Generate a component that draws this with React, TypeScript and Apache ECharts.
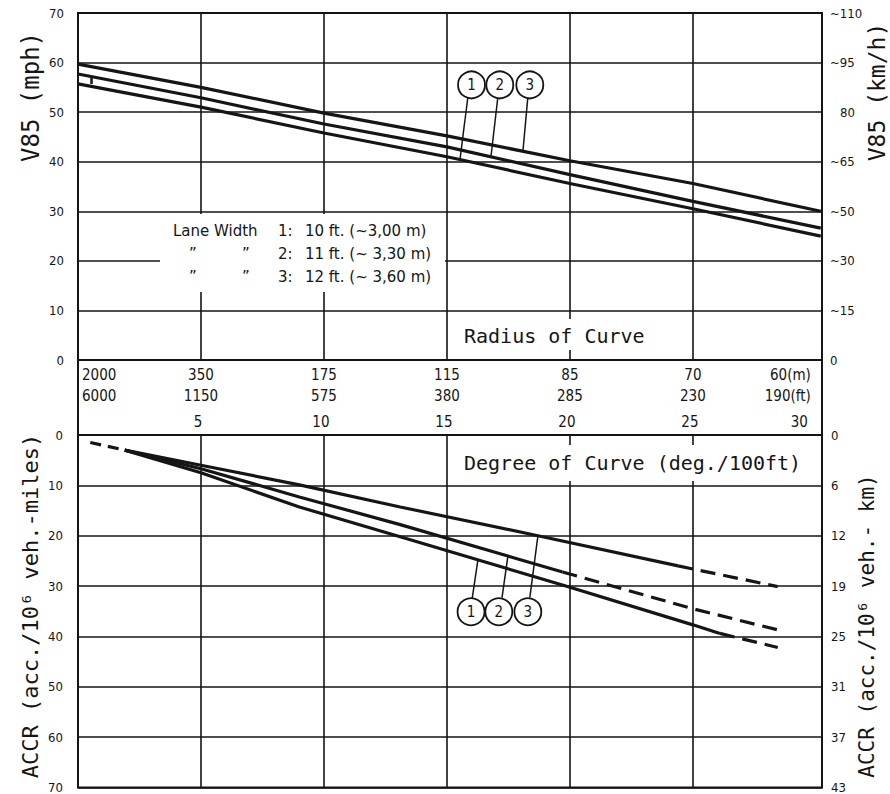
import { useEffect, useRef } from 'react';
import * as echarts from 'echarts';

// ---------- data ----------
const DEG_TICKS = [0, 5, 10, 15, 20, 25, 30];
const DEG_GRID = [5, 10, 15, 20, 25];
const DEG_MAX = 30.25;
const RADIUS_M = ['2000', '350', '175', '115', '85', '70', '60(m)'];
const RADIUS_FT = ['6000', '1150', '575', '380', '285', '230', '190(ft)'];
const KMH_LABELS = ['0', '~15', '~30', '~50', '~65', '80', '~95', '~110'];
const ACCR_KM_LABELS = ['0', '6', '12', '19', '25', '31', '37', '43'];

// V85 (mph) vs degree of curve, lane widths 10/11/12 ft
const V85_DEG = [0, 5, 10, 15, 20, 25, 30.2];
const V85_L1 = [55.7, 51.0, 45.8, 41.0, 35.6, 30.5, 25.0];
const V85_L2 = [57.7, 52.9, 47.6, 43.0, 37.4, 32.0, 26.6];
const V85_L3 = [59.7, 55.0, 49.8, 45.2, 40.2, 35.6, 30.0];

// ACCR (acc./10^6 veh.-miles) vs degree of curve
const START_DEG = [0.5, 1.9];
const START_ACCR = [1.5, 3.0];
const L1_DEG = [1.9, 5, 9.0, 13.1, 19.9, 25.0, 26.1];
const L1_ACCR = [3.0, 7.5, 14.3, 20.2, 30.1, 37.7, 39.4];
const L1_DASH_DEG = [26.1, 28.45];
const L1_DASH_ACCR = [39.4, 42.2];
const L2_DEG = [1.9, 5, 9.0, 13.1, 19.7];
const L2_ACCR = [3.0, 6.7, 12.3, 17.8, 27.2];
const L2_DASH_DEG = [19.7, 25.0, 28.45];
const L2_DASH_ACCR = [27.2, 34.5, 38.7];
const L3_DEG = [1.9, 5, 9.0, 13.1, 18.7, 24.4];
const L3_ACCR = [3.0, 6.0, 9.9, 14.3, 20.0, 26.0];
const L3_DASH_DEG = [24.4, 28.45];
const L3_DASH_ACCR = [26.0, 30.1];

// circled line numbers and their leader lines
const LINE_IDS = ['1', '2', '3'];
const TOP_CIRCLE_DEG = [16.0, 17.15, 18.37];
const TOP_CIRCLE_V = 55.5;
const TOP_LEADER_FROM = [[15.85, 53.0], [17.07, 53.0], [18.29, 53.0]];
const TOP_LEADER_TO = [[15.53, 40.4], [16.79, 41.0], [18.09, 42.1]];
const TOP_TICK = [[0.53, 56.9], [0.53, 55.7]];
const BOT_CIRCLE_DEG = [15.98, 17.11, 18.29];
const BOT_CIRCLE_ACCR = 35.1;
const BOT_LEADER_FROM = [[16.02, 32.7], [17.24, 32.3], [18.37, 32.3]];
const BOT_LEADER_TO = [[16.26, 24.8], [17.48, 24.0], [18.7, 20.0]];

// ---------- styling ----------
const INK = '#151515';
const FONT = "'DejaVu Sans Condensed', 'DejaVu Sans', sans-serif";
const FONT_W = "'DejaVu Sans', sans-serif";
const FONT_M = "'DejaVu Sans Mono', monospace";
const GRID_LINE = { color: INK, width: 1.6 };

const zip = (xs: number[], ys: number[]) => xs.map((x, i) => [x, ys[i]]);

function lineSeries(xi: number, yi: number, data: number[][], dashed?: number[], extra: any = {}) {
  return {
    type: 'line',
    xAxisIndex: xi,
    yAxisIndex: yi,
    data,
    symbol: 'none',
    showSymbol: false,
    silent: true,
    z: 3,
    lineStyle: { color: INK, width: 3.2, type: dashed || 'solid', cap: 'butt' },
    ...extra,
  };
}

function vGrid() {
  return {
    markLine: {
      silent: true,
      symbol: ['none', 'none'],
      label: { show: false },
      animation: false,
      lineStyle: { color: INK, width: 1.6, type: 'solid' },
      data: DEG_GRID.map((v) => ({ xAxis: v })),
    },
  };
}

function text(x: number, y: number, t: string, size: number, align = 'left', rotation = 0, family = FONT) {
  return {
    type: 'text',
    x,
    y,
    rotation,
    z: 11,
    silent: true,
    style: {
      text: t,
      fill: INK,
      fontSize: size,
      fontFamily: family,
      align,
      verticalAlign: 'middle',
      textAlign: align,
      textVerticalAlign: 'middle',
    },
  };
}

function whiteRect(x: number, y: number, w: number, h: number) {
  return { type: 'rect', z: 10, silent: true, shape: { x, y, width: w, height: h }, style: { fill: '#fff' } };
}

export default function App() {
  const ref = useRef<HTMLDivElement>(null);

  useEffect(() => {
    const chart = echarts.init(ref.current!, null, { renderer: 'svg' });

    const gridBase = { left: 78, right: 68, show: true, borderColor: INK, borderWidth: 2, backgroundColor: 'transparent' };
    const tickLabel = { color: INK, fontSize: 13, fontFamily: FONT };

    const option: any = {
      animation: false,
      backgroundColor: '#fff',
      grid: [
        { ...gridBase, top: 13, height: 347 },
        { ...gridBase, top: 435, height: 353 },
        { ...gridBase, top: 360, height: 75 },
      ],
      xAxis: [
        {
          gridIndex: 0,
          type: 'value',
          min: 0,
          max: DEG_MAX,
          interval: 5,
          position: 'bottom',
          axisLine: { show: false },
          axisTick: { show: false },
          splitLine: { show: false },
          axisLabel: {
            customValues: DEG_TICKS,
            color: INK,
            fontSize: 15,
            fontFamily: FONT,
            margin: 4,
            lineHeight: 21,
            alignMinLabel: 'left',
            alignMaxLabel: 'right',
            formatter: (v: number) => {
              const i = DEG_TICKS.indexOf(v);
              if (i < 0) return '';
              if (i === 0) return `{l|${RADIUS_M[i]}}\n{l|${RADIUS_FT[i]}}`;
              if (i === DEG_TICKS.length - 1) return `{r|${RADIUS_M[i]}}\n{r|${RADIUS_FT[i]}}`;
              return `${RADIUS_M[i]}\n${RADIUS_FT[i]}`;
            },
            rich: {
              l: { padding: [0, 0, 0, 4], fontSize: 15, fontFamily: FONT, color: INK, lineHeight: 21 },
              r: { padding: [0, 5, 0, 0], fontSize: 15, fontFamily: FONT, color: INK, lineHeight: 21 },
            },
          },
        },
        {
          gridIndex: 1,
          type: 'value',
          min: 0,
          max: DEG_MAX,
          interval: 5,
          position: 'top',
          axisLine: { show: false },
          axisTick: { show: false },
          splitLine: { show: false },
          axisLabel: {
            customValues: DEG_TICKS,
            color: INK,
            fontSize: 15,
            fontFamily: FONT,
            margin: 6,
            alignMaxLabel: 'right',
            formatter: (v: number) => {
              if (v === 0) return '';
              if (v === 30) return `{r|${v}}`;
              if (DEG_TICKS.indexOf(v) < 0) return '';
              return `{c|${v}}`;
            },
            rich: {
              r: { padding: [0, 8, 0, 0], fontSize: 15, fontFamily: FONT, color: INK },
              c: { padding: [0, 6, 0, 0], fontSize: 15, fontFamily: FONT, color: INK },
            },
          },
        },
        { gridIndex: 2, type: 'value', min: 0, max: DEG_MAX, show: false },
      ],
      yAxis: [
        {
          gridIndex: 0,
          type: 'value',
          min: 0,
          max: 70,
          interval: 10,
          position: 'left',
          axisLine: { show: false },
          axisTick: { show: false },
          splitLine: { show: true, lineStyle: GRID_LINE },
          axisLabel: { ...tickLabel, margin: 14 },
        },
        {
          gridIndex: 0,
          type: 'value',
          min: 0,
          max: 70,
          interval: 10,
          position: 'right',
          axisLine: { show: false },
          axisTick: { show: false },
          splitLine: { show: false },
          axisLabel: {
            ...tickLabel,
            margin: 8,
            formatter: (v: number) => {
              const s = KMH_LABELS[Math.round(v / 10)] ?? '';
              return s.startsWith('~') || s === '0' ? s : `{p|${s}}`;
            },
            rich: { p: { padding: [0, 0, 0, 10], fontSize: 13, fontFamily: FONT, color: INK } },
          },
        },
        {
          gridIndex: 1,
          type: 'value',
          min: 0,
          max: 70,
          interval: 10,
          inverse: true,
          position: 'left',
          axisLine: { show: false },
          axisTick: { show: false },
          splitLine: { show: true, lineStyle: GRID_LINE },
          axisLabel: { ...tickLabel, margin: 15 },
        },
        {
          gridIndex: 1,
          type: 'value',
          min: 0,
          max: 70,
          interval: 10,
          inverse: true,
          position: 'right',
          axisLine: { show: false },
          axisTick: { show: false },
          splitLine: { show: false },
          axisLabel: { ...tickLabel, margin: 9, formatter: (v: number) => ACCR_KM_LABELS[Math.round(v / 10)] ?? '' },
        },
        { gridIndex: 2, type: 'value', min: 0, max: 1, show: false },
      ],
      graphic: [
        // lane width legend
        whiteRect(160, 214, 285, 78),
        text(173, 231, 'Lane Width', 15, 'left', 0, FONT_W),
        text(278, 231, '1:', 15, 'left', 0, FONT_W),
        text(305, 231, '10 ft. (~3,00 m)', 15, 'left', 0, FONT_W),
        text(189, 254, '\u201D', 15, 'left', 0, FONT_W),
        text(242, 254, '\u201D', 15, 'left', 0, FONT_W),
        text(278, 254, '2:', 15, 'left', 0, FONT_W),
        text(305, 254, '11 ft. (~ 3,30 m)', 15, 'left', 0, FONT_W),
        text(189, 277, '\u201D', 15, 'left', 0, FONT_W),
        text(242, 277, '\u201D', 15, 'left', 0, FONT_W),
        text(278, 277, '3:', 15, 'left', 0, FONT_W),
        text(305, 277, '12 ft. (~ 3,60 m)', 15, 'left', 0, FONT_W),
        // axis captions inside plot
        whiteRect(453, 319, 208, 31),
        text(464, 336, 'Radius of Curve', 20, 'left', 0, FONT_M),
        whiteRect(455, 445, 358, 36),
        text(464, 463, 'Degree of Curve (deg./100ft)', 20, 'left', 0, FONT_M),
        // rotated axis titles
        text(31, 97, 'V85 (mph)', 24, 'center', Math.PI / 2, FONT_M),
        text(877, 92, 'V85 (km/h)', 23, 'center', Math.PI / 2, FONT_M),
        text(30, 606, 'ACCR (acc./10\u2076 veh.-miles)', 22, 'center', Math.PI / 2, FONT_M),
        text(867, 626, 'ACCR (acc./10\u2076 veh.- km)', 21, 'center', Math.PI / 2, FONT_M),
      ],
      series: [
        // top panel
        lineSeries(0, 0, zip(V85_DEG, V85_L1), undefined, vGrid()),
        lineSeries(0, 0, zip(V85_DEG, V85_L2)),
        lineSeries(0, 0, zip(V85_DEG, V85_L3)),
        // bottom panel
        lineSeries(1, 2, zip(START_DEG, START_ACCR), [11, 7], vGrid()),
        lineSeries(1, 2, zip(L1_DEG, L1_ACCR)),
        lineSeries(1, 2, zip(L1_DASH_DEG, L1_DASH_ACCR), [15, 8]),
        lineSeries(1, 2, zip(L2_DEG, L2_ACCR)),
        lineSeries(1, 2, zip(L2_DASH_DEG, L2_DASH_ACCR), [15, 8]),
        lineSeries(1, 2, zip(L3_DEG, L3_ACCR)),
        lineSeries(1, 2, zip(L3_DASH_DEG, L3_DASH_ACCR), [15, 8]),
        // leader lines
        {
          type: 'lines',
          coordinateSystem: 'cartesian2d',
          xAxisIndex: 0,
          yAxisIndex: 0,
          silent: true,
          z: 4,
          lineStyle: { color: INK, width: 1.5, opacity: 1 },
          data: [
            ...TOP_LEADER_FROM.map((f, i) => ({ coords: [f, TOP_LEADER_TO[i]] })),
            { coords: TOP_TICK, lineStyle: { width: 2.5 } },
          ],
        },
        {
          type: 'lines',
          coordinateSystem: 'cartesian2d',
          xAxisIndex: 1,
          yAxisIndex: 2,
          silent: true,
          z: 4,
          lineStyle: { color: INK, width: 1.5, opacity: 1 },
          data: BOT_LEADER_FROM.map((f, i) => ({ coords: [f, BOT_LEADER_TO[i]] })),
        },
        // circled numbers
        {
          type: 'scatter',
          xAxisIndex: 0,
          yAxisIndex: 0,
          symbol: 'circle',
          symbolSize: 27,
          silent: true,
          z: 5,
          itemStyle: { color: '#fff', borderColor: INK, borderWidth: 1.8, opacity: 1 },
          label: { show: true, position: 'inside', color: INK, fontSize: 15, fontFamily: FONT, formatter: (p: any) => p.name },
          data: TOP_CIRCLE_DEG.map((d, i) => ({ name: LINE_IDS[i], value: [d, TOP_CIRCLE_V] })),
        },
        {
          type: 'scatter',
          xAxisIndex: 1,
          yAxisIndex: 2,
          symbol: 'circle',
          symbolSize: 27,
          silent: true,
          z: 5,
          itemStyle: { color: '#fff', borderColor: INK, borderWidth: 1.8, opacity: 1 },
          label: { show: true, position: 'inside', color: INK, fontSize: 15, fontFamily: FONT, formatter: (p: any) => p.name },
          data: BOT_CIRCLE_DEG.map((d, i) => ({ name: LINE_IDS[i], value: [d, BOT_CIRCLE_ACCR] })),
        },
      ],
    };

    chart.setOption(option);
    return () => chart.dispose();
  }, []);

  return (
    <div
      ref={ref}
      style={{ position: 'fixed', left: 0, top: 0, width: 890, height: 794, background: '#fff' }}
    />
  );
}
